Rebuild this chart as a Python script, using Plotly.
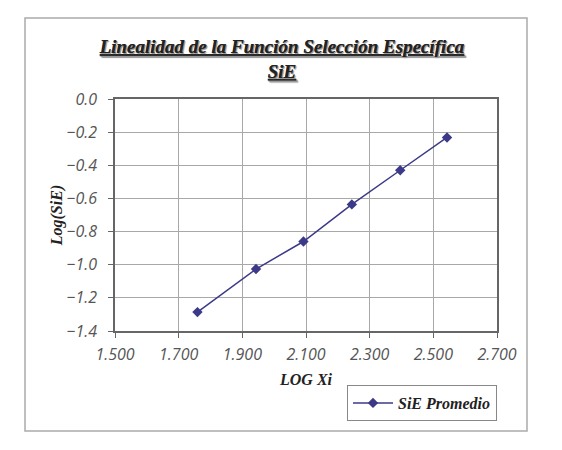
import plotly.graph_objects as go

log_xi = [1.759, 1.943, 2.092, 2.244, 2.396, 2.543]
log_sie = [-1.286, -1.026, -0.860, -0.636, -0.430, -0.232]
series_name = "SiE Promedio"

W, H = 562, 450
L, R, T, B = 115, 497, 99, 331
pw, ph = R - L, B - T

def px(x):
    return (x - L) / pw

def py(y):
    return (B - y) / ph

line_color = "#3c3a88"

fig = go.Figure()
fig.add_trace(go.Scatter(
    x=log_xi, y=log_sie, mode="lines+markers", name=series_name,
    line=dict(color=line_color, width=1.5),
    marker=dict(symbol="diamond", size=8, color=line_color),
))

serif = "Liberation Serif"
sans = "Open Sans"

fig.update_layout(
    width=W, height=H,
    margin=dict(l=L, r=W - R, t=T, b=H - B),
    paper_bgcolor="white", plot_bgcolor="white",
    title=dict(
        text="<u>Linealidad de la Función Selección Específica</u><br><u>SiE</u>",
        x=282 / W, xref="container", xanchor="center",
        y=1 - 53 / H, yref="container", yanchor="middle",
        font=dict(family=serif, size=19, color="#222", style="italic", weight="bold",
                  shadow="1px 1px 1px #999"),
    ),
    xaxis=dict(
        range=[1.5, 2.7], dtick=0.2, tick0=1.5, tickformat=".3f",
        showgrid=True, gridcolor="#a8a8a8", gridwidth=1,
        showline=True, linecolor="#666", linewidth=1.5, mirror=True,
        ticks="outside", ticklen=5, tickcolor="#666", ticklabelstandoff=3,
        tickfont=dict(family=sans, size=16, color="#555", style="italic"),
        title=dict(text="<b><i>LOG Xi</i></b>", font=dict(family=serif, size=16, color="#222"),
                   standoff=10),
        zeroline=False,
    ),
    yaxis=dict(
        range=[-1.4, 0.0], dtick=0.2, tickformat=".1f",
        showgrid=True, gridcolor="#a8a8a8", gridwidth=1,
        showline=True, linecolor="#666", linewidth=1.5, mirror=True,
        ticks="outside", ticklen=5, tickcolor="#666", ticklabelstandoff=8,
        tickfont=dict(family=sans, size=16, color="#555", style="italic"),
        title=dict(text="<b><i>Log(SiE)</i></b>", font=dict(family=serif, size=16, color="#222"),
                   standoff=0),
        zeroline=False,
    ),
    showlegend=True,
    legend=dict(
        x=px(497), xanchor="right", y=py(385), yanchor="top",
        bordercolor="#888", borderwidth=1, bgcolor="white",
        font=dict(family=serif, size=16, color="#222", style="italic", weight="bold"),
        itemwidth=40,
    ),
    shapes=[dict(
        type="rect", xref="paper", yref="paper",
        x0=px(25), x1=px(527), y0=py(431), y1=py(18),
        line=dict(color="#aaa", width=1.5), fillcolor="rgba(0,0,0,0)", layer="below",
    )],
)

fig.write_html("out.html")
